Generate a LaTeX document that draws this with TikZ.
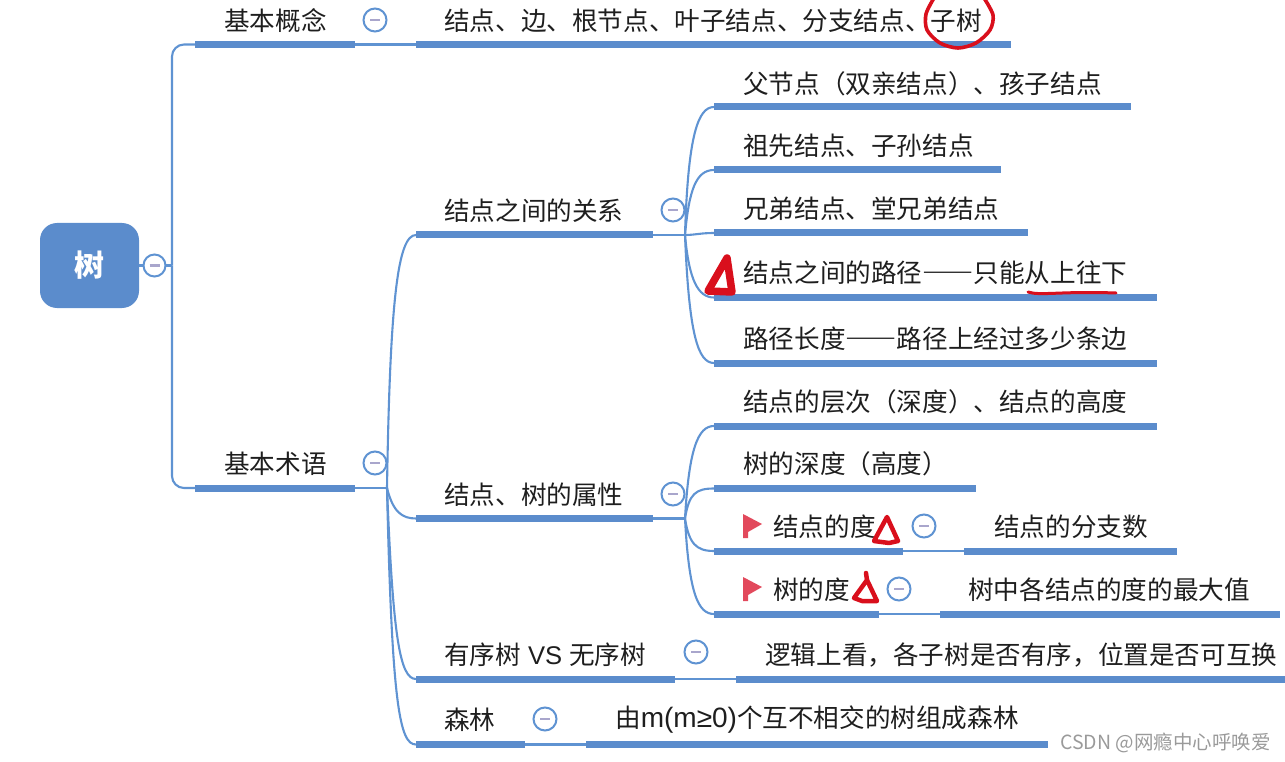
\documentclass[tikz,border=0pt]{standalone}
\usepackage{fontspec}
\setmainfont{Noto Sans CJK SC}
\newfontfamily\dashfont[RawFeature=+fwid]{Noto Sans CJK SC}
\newfontfamily\latinfont{Liberation Sans}
\usepackage{xcolor}
\usepackage{tikz}
\definecolor{ink}{HTML}{1E1E1E}
\definecolor{cBar}{HTML}{5B8CCC}
\definecolor{cLink}{HTML}{5F93D2}
\definecolor{cMinus}{HTML}{A9A6CC}
\definecolor{cFlag}{HTML}{E2495C}
\definecolor{cPen}{HTML}{D90F1C}
\definecolor{cMark}{HTML}{9A9A9A}
\tikzset{
  root/.style = {rounded corners=17pt, fill=cBar, text=white, minimum width=99pt, minimum height=85pt,
                 inner sep=0pt, font=\fontsize{30}{33}\selectfont\bfseries},
  bar/.style  = {fill=cBar, anchor=west, minimum height=7pt, inner sep=0pt, outer sep=0pt},
  txt/.style  = {anchor=west, inner sep=0pt, yshift=-1pt, text=ink, font=\fontsize{25.6}{28}\selectfont},
  lnk/.style  = {draw=cLink, line width=2.1pt},
  tog/.style  = {circle, draw=cLink, fill=white, line width=2pt, minimum size=23pt, inner sep=0pt,
                 path picture={\draw[cMinus, line width=2.4pt] (path picture bounding box.center) +(-5pt,0) -- +(5pt,0);}},
  flagp/.style = {fill=cFlag, draw=none},
  pen/.style  = {draw=cPen, line join=round, line cap=round},
  wmk/.style  = {anchor=west, inner sep=0pt, text=cMark, font=\fontsize{19.5}{22}\selectfont},
}
\begin{document}
\begin{tikzpicture}[x=1pt,y=-1pt]
  \useasboundingbox (0,0) rectangle (1285,762);
  \node[root] (root) at (89.5,265.5) {\raisebox{-2pt}{树}};

  \node[bar, minimum width=160pt] (bcon) at (195,44.5) {};
  \node[bar, minimum width=595pt] (bconl) at (416,44.5) {};
  \node[bar, minimum width=160pt] (bterm) at (195,488) {};
  \node[bar, minimum width=237pt] (brel) at (416,235) {};
  \node[bar, minimum width=237pt] (battr) at (416,518.5) {};
  \node[bar, minimum width=259pt] (bord) at (416,679) {};
  \node[bar, minimum width=549pt] (bordl) at (736,679) {};
  \node[bar, minimum width=109pt] (bfor) at (416,744.5) {};
  \node[bar, minimum width=462pt] (bforl) at (586,744.5) {};

  \node[bar, minimum width=417pt] (rela) at (714,107) {};
  \node[bar, minimum width=287pt] (relb) at (714,170) {};
  \node[bar, minimum width=314pt] (relc) at (714,233) {};
  \node[bar, minimum width=443pt] (reld) at (714,297.5) {};
  \node[bar, minimum width=443pt] (rele) at (714,363) {};

  \node[bar, minimum width=443pt] (attra) at (714,426) {};
  \node[bar, minimum width=262pt] (attrb) at (714,488.5) {};
  \node[bar, minimum width=189pt] (attrc) at (714,551) {};
  \node[bar, minimum width=213pt] (attrcl) at (964,551) {};
  \node[bar, minimum width=165pt] (attrd) at (714,614) {};
  \node[bar, minimum width=340pt] (attrdl) at (940,614) {};

  \coordinate (froot) at (172,265.5);
  \coordinate (fterm) at (387,488);
  \coordinate (frel) at (685,235);
  \coordinate (fattr) at (685,518.5);

  \draw[lnk] (root.east) -- (froot);
  \draw[lnk, rounded corners=12pt] (froot) |- (bcon.west);
  \draw[lnk, rounded corners=12pt] (froot) |- (bterm.west);
  \draw[lnk] (bcon.east) -- (bconl.west);
  \draw[lnk] (bterm.east) -- (fterm);
  \draw[lnk] (fterm) .. controls +(3,-190) and +(-18,0) .. (brel.west);
  \draw[lnk] (fterm) .. controls +(6,24) and +(-14,0) .. (battr.west);
  \draw[lnk] (fterm) .. controls +(6,150) and +(-16,0) .. (bord.west);
  \draw[lnk] (fterm) .. controls +(5,220) and +(-16,0) .. (bfor.west);
  \draw[lnk] (bord.east) -- (bordl.west);
  \draw[lnk] (bfor.east) -- (bforl.west);

  \draw[lnk] (brel.east) -- (frel);
  \draw[lnk] (frel) .. controls +(3,-100) and +(-16,0) .. (rela.west);
  \draw[lnk] (frel) .. controls +(4,-45) and +(-18,0) .. (relb.west);
  \draw[lnk] (frel) .. controls +(10,0) and +(-14,0) .. (relc.west);
  \draw[lnk] (frel) .. controls +(4,45) and +(-16,0) .. (reld.west);
  \draw[lnk] (frel) .. controls +(4,100) and +(-16,0) .. (rele.west);

  \draw[lnk] (battr.east) -- (fattr);
  \draw[lnk] (fattr) .. controls +(4,-70) and +(-16,0) .. (attra.west);
  \draw[lnk] (fattr) .. controls +(4,-25) and +(-18,0) .. (attrb.west);
  \draw[lnk] (fattr) .. controls +(4,25) and +(-18,0) .. (attrc.west);
  \draw[lnk] (fattr) .. controls +(4,75) and +(-16,0) .. (attrd.west);
  \draw[lnk] (attrc.east) -- (attrcl.west);
  \draw[lnk] (attrd.east) -- (attrdl.west);

  \node[tog, minimum size=22pt] (troot) at (154.5,265.5) {};
  \node[tog] (tcon) at (375,20) {};
  \node[tog] (tterm) at (375,463) {};
  \node[tog] (trel) at (673,210) {};
  \node[tog] (tattr) at (673,494) {};
  \node[tog] (tord) at (696,652) {};
  \node[tog] (tfor) at (545,719) {};
  \node[tog] (tattrc) at (924,526) {};
  \node[tog] (tattrd) at (899,589) {};

  \node[txt] (lcon) at (224,20) {基本概念};
  \node[txt] (lconl) at (444,20) {结点、边、根节点、叶子结点、分支结点、子树};
  \node[txt] (lterm) at (224,463) {基本术语};
  \node[txt] (lrel) at (444,210) {结点之间的关系};
  \node[txt] (lattr) at (444,494) {结点、树的属性};
  \node[txt] (lord) at (444,654) {有序树{\latinfont\ VS }无序树};
  \node[txt] (lordl) at (765,654) {逻辑上看，各子树是否有序，位置是否可互换};
  \node[txt] (lfor) at (444,719) {森林};
  \node[txt] (lforl) at (615,719) {由{\latinfont\fontsize{28}{30}\selectfont m(m≥0)}个互不相交的树组成森林};

  \node[txt] (lrela) at (743,83) {父节点（双亲结点）、孩子结点};
  \node[txt] (lrelb) at (743,145) {祖先结点、子孙结点};
  \node[txt] (lrelc) at (743,208) {兄弟结点、堂兄弟结点};
  \node[txt] (lreld) at (743,272) {结点之间的路径{\dashfont\bfseries ——}只能从上往下};
  \node[txt] (lrele) at (743,338) {路径长度{\dashfont\bfseries ——}路径上经过多少条边};
  \node[txt] (lattra) at (743,401) {结点的层次（深度）、结点的高度};
  \node[txt] (lattrb) at (743,463) {树的深度（高度）};
  \node[txt] (lattrc) at (773,526) {结点的度};
  \node[txt] (lattrcl) at (994,526) {结点的分支数};
  \node[txt] (lattrd) at (773,589) {树的度};
  \node[txt] (lattrdl) at (968,589) {树中各结点的度的最大值};

  % flags
  \fill[flagp] (743,514) -- (762,524) -- (748,532) -- (748,538) -- (743,538) -- cycle;
  \fill[flagp] (743,577) -- (762,587) -- (748,595) -- (748,601) -- (743,601) -- cycle;

  % pen marks
  \draw[pen, line width=3.6pt] plot[smooth] coordinates {(934,-2) (926,14) (927,30) (940,43) (958,48) (976,43) (990,30) (993,15) (984,-2)};
  \draw[pen, line width=7.5pt] (727,258) -- (708,291) -- (732,292) -- cycle;
  \draw[pen, line width=3pt] (1028,292) .. controls (1040,296) and (1060,291) .. (1116,293);
  \draw[pen, line width=4.5pt] (887,517) -- (874,541) -- (889,543) -- (898,541) -- cycle;
  \draw[pen, line width=4.5pt] (866,573) -- (867,580) -- (854,598) -- (862,601) -- (877,601) -- (867,580);

  \node[wmk] (wmark) at (1060,743) {CSDN @网瘾中心呼唤爱};
\end{tikzpicture}
\end{document}
